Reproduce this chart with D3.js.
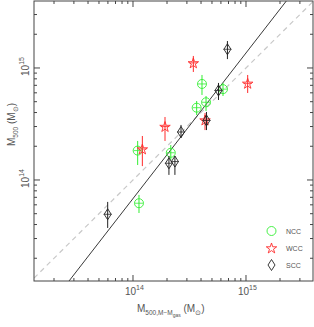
<!DOCTYPE html>
<html>
<head>
<meta charset="utf-8">
<script src="https://cdn.jsdelivr.net/npm/d3@7"></script>
<style>
  body { margin: 0; background: #fff; }
  text { font-family: "Liberation Sans", Arial, sans-serif; fill: #555; }
</style>
</head>
<body>
<div id="chart"></div>
<script>
// masses in units of 1e14 Msun: x = M500,M-Mgas ; y = M500 ; errors as [lo, hi]
var nccX = [1.10, 1.13, 2.16, 3.66, 4.08, 4.43, 6.26];
var nccY = [1.83, 0.62, 1.75, 4.42, 7.20, 4.94, 6.47];
var nccLo = [1.36, 0.507, 1.51, 3.80, 5.74, 4.13, 5.62];
var nccHi = [2.23, 0.735, 2.05, 5.07, 8.66, 5.62, 7.35];

var wccX = [1.21, 1.92, 3.42, 4.34, 10.35];
var wccY = [1.89, 3.00, 11.1, 3.43, 7.29];
var wccLo = [1.33, 2.23, 9.21, 2.79, 5.98];
var wccHi = [2.47, 3.65, 12.8, 3.96, 8.66];

var sccX = [0.597, 2.08, 2.35, 2.66, 4.47, 5.71, 6.85];
var sccY = [0.494, 1.41, 1.46, 2.68, 3.40, 6.30, 14.7];
var sccLo = [0.373, 1.11, 1.11, 2.37, 2.79, 5.18, 12.0];
var sccHi = [0.637, 1.64, 1.64, 3.10, 4.05, 7.35, 17.4];

// best fit in log space: log(y/1e14) = fitA + fitB*log(x/1e14), plus the 1:1 line
var fitA = -0.166;
var fitB = 1.30;

var legendNames = ["NCC", "WCC", "SCC"];

var W = 314, H = 327;
var margin = { top: 1, right: 1, bottom: 46, left: 34 };

var svg = d3.select("#chart").append("svg")
  .attr("width", W)
  .attr("height", H);

var x = d3.scaleLog()
  .domain([Math.pow(10, 13.124), Math.pow(10, 15.593)])
  .range([margin.left, W - margin.right]);

var y = d3.scaleLog()
  .domain([Math.pow(10, 13.098), Math.pow(10, 15.598)])
  .range([H - margin.bottom, margin.top]);

svg.append("clipPath").attr("id", "clip")
  .append("rect")
  .attr("x", margin.left).attr("y", margin.top)
  .attr("width", W - margin.left - margin.right)
  .attr("height", H - margin.top - margin.bottom);

var plot = svg.append("g").attr("clip-path", "url(#clip)");

// lines
var xd = x.domain();
plot.append("line")
  .attr("x1", x(xd[0])).attr("y1", y(xd[0]))
  .attr("x2", x(xd[1])).attr("y2", y(xd[1]))
  .style("stroke", "#c8c8c8")
  .style("stroke-width", 1.2)
  .style("stroke-dasharray", "5,4");

function fit(m) {
  return 1e14 * Math.pow(10, fitA + fitB * Math.log10(m / 1e14));
}
plot.append("line")
  .attr("x1", x(xd[0])).attr("y1", y(fit(xd[0])))
  .attr("x2", x(xd[1])).attr("y2", y(fit(xd[1])))
  .style("stroke", "#222")
  .style("stroke-width", 0.9);

// marker shapes
var star = d3.symbol().type(d3.symbolStar).size(34)();
function diamond(w, h) {
  return "M0," + (-h) + "L" + w + ",0L0," + h + "L" + (-w) + ",0Z";
}

function drawSet(xs, ys, lo, hi, color, kind) {
  var g = plot.append("g");
  xs.forEach(function (xv, i) {
    var cx = x(xv * 1e14), cy = y(ys[i] * 1e14);
    g.append("line")
      .attr("x1", cx).attr("x2", cx)
      .attr("y1", y(lo[i] * 1e14)).attr("y2", y(hi[i] * 1e14))
      .style("stroke", color).style("stroke-width", 1);
    g.append("line")
      .attr("x1", cx - 4).attr("x2", cx + 4)
      .attr("y1", cy).attr("y2", cy)
      .style("stroke", color).style("stroke-width", 0.8);
    drawMarker(g, cx, cy, color, kind);
  });
}

function drawMarker(g, cx, cy, color, kind) {
  var m;
  if (kind === "circle") {
    m = g.append("circle").attr("cx", cx).attr("cy", cy).attr("r", 4.5);
  } else if (kind === "star") {
    m = g.append("path").attr("d", star)
      .attr("transform", "translate(" + cx + "," + (cy + 0.5) + ")");
  } else {
    m = g.append("path").attr("d", diamond(3.5, 5.5))
      .attr("transform", "translate(" + cx + "," + cy + ")");
  }
  m.style("fill", "none").style("stroke", color).style("stroke-width", 0.9);
}

drawSet(nccX, nccY, nccLo, nccHi, "#33ee33", "circle");
drawSet(wccX, wccY, wccLo, wccHi, "#ff2a2a", "star");
drawSet(sccX, sccY, sccLo, sccHi, "#222", "diamond");

// frame
svg.append("rect")
  .attr("x", margin.left).attr("y", margin.top)
  .attr("width", W - margin.left - margin.right)
  .attr("height", H - margin.top - margin.bottom)
  .style("fill", "none").style("stroke", "#444").style("stroke-width", 1);

// ticks on all four sides
function logTicks(domain) {
  var out = [];
  for (var e = 12; e <= 16; e++) {
    for (var k = 1; k <= 9; k++) {
      var v = k * Math.pow(10, e);
      if (v >= domain[0] && v <= domain[1]) out.push({ v: v, major: k === 1 });
    }
  }
  return out;
}

var x0 = margin.left, x1 = W - margin.right, y0 = margin.top, y1 = H - margin.bottom;
var tg = svg.append("g").style("stroke", "#444").style("stroke-width", 1);
logTicks(x.domain()).forEach(function (t) {
  var px = x(t.v), len = t.major ? 6 : 3;
  tg.append("line").attr("x1", px).attr("x2", px).attr("y1", y1).attr("y2", y1 - len);
  tg.append("line").attr("x1", px).attr("x2", px).attr("y1", y0).attr("y2", y0 + len);
});
logTicks(y.domain()).forEach(function (t) {
  var py = y(t.v), len = t.major ? 6 : 3;
  tg.append("line").attr("y1", py).attr("y2", py).attr("x1", x0).attr("x2", x0 + len);
  tg.append("line").attr("y1", py).attr("y2", py).attr("x1", x1).attr("x2", x1 - len);
});

// tick labels
var xLabels = [1e14, 1e15];
var yLabels = [1e14, 1e15];

xLabels.forEach(function (v) {
  var t = svg.append("text")
    .attr("x", x(v) - 8).attr("y", y1 + 14)
    .style("font-size", "10px");
  t.append("tspan").text("10");
  t.append("tspan").attr("dy", -5).style("font-size", "7px").text(Math.round(Math.log10(v)));
});

yLabels.forEach(function (v) {
  var t = svg.append("text")
    .attr("transform", "translate(29," + (y(v) + 8) + ") rotate(-90)")
    .style("font-size", "10px");
  t.append("tspan").text("10");
  t.append("tspan").attr("dy", -5).style("font-size", "7px").text(Math.round(Math.log10(v)));
});

// axis titles
var xt = svg.append("text")
  .attr("x", 137).attr("y", 312)
  .style("font-size", "10px");
xt.append("tspan").text("M");
xt.append("tspan").attr("dy", 3).style("font-size", "6.5px").text("500,M\u2212M");
xt.append("tspan").attr("dy", 2).style("font-size", "5px").text("gas");
xt.append("tspan").attr("dy", -5).text("  (M");
xt.append("tspan").attr("dy", 3).style("font-size", "6.5px").text("\u2299");
xt.append("tspan").attr("dy", -3).text(")");

var yt = svg.append("text")
  .attr("transform", "translate(15,146) rotate(-90)")
  .style("font-size", "10px");
yt.append("tspan").text("M");
yt.append("tspan").attr("dy", 3).style("font-size", "6.5px").text("500");
yt.append("tspan").attr("dy", -3).text("  (M");
yt.append("tspan").attr("dy", 3).style("font-size", "6.5px").text("\u2299");
yt.append("tspan").attr("dy", -3).text(")");

// legend
var legendColors = ["#33ee33", "#ff2a2a", "#222"];
var legendKinds = ["circle", "star", "diamond"];
var lg = svg.append("g");
legendNames.forEach(function (name, i) {
  var ly = 231 + i * 17;
  drawMarker(lg, 271.5, ly, legendColors[i], legendKinds[i]);
  lg.append("text")
    .attr("x", 286).attr("y", ly + 2.5)
    .style("font-size", "7px")
    .text(name);
});
</script>
</body>
</html>
